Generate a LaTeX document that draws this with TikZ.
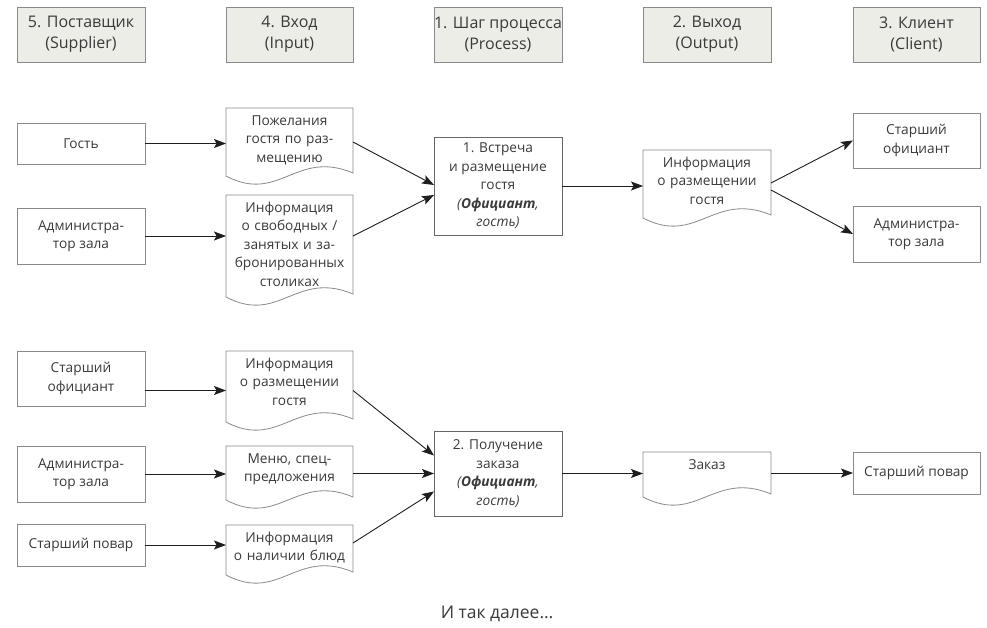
\documentclass[tikz,border=0pt]{standalone}
\usepackage{fontspec}
\setmainfont{Open Sans}
\usetikzlibrary{arrows.meta,calc}
\definecolor{txt}{HTML}{3A3A3A}
\definecolor{edgec}{HTML}{8A8A8A}
\definecolor{hdrfill}{HTML}{EDEDE8}
\definecolor{arrc}{HTML}{1E1E1E}
\tikzset{
  basefont/.style={font=\fontsize{13.7}{18.5}\selectfont, text=txt},
  plainbox/.style={basefont, draw=edgec, line width=0.8pt, rectangle, inner sep=0pt, outer sep=0pt, align=center},
  hdrbox/.style={plainbox, fill=hdrfill, font=\fontsize{16}{21}\selectfont},
  procbox/.style={plainbox, line width=0.9pt, draw=black!60},
  docarea/.style={rectangle, draw=none, inner sep=0pt, outer sep=0pt},
  doctext/.style={basefont, anchor=north, text width=126pt, align=center, inner sep=0pt, yshift=-4pt, execute at begin node={\strut}},
  docline/.style={draw=edgec, line width=0.8pt, line join=miter},
  arw/.style={draw=arrc, line width=0.9pt, -{Stealth[length=12pt,width=9pt,inset=2.5pt]}},
  foot/.style={font=\fontsize{17.5}{21}\selectfont, text=txt}
}
\newcommand\rectnode[7]{\node[#1, minimum width={#4-#3}, minimum height={#6-#5}] (#2) at ({(#3+#4)/2},{(#5+#6)/2}) {#7};}
\newcommand\docshape[6]{%
  \node[docarea, minimum width={#3-#2}, minimum height={#5-#4}] (#1) at ({(#2+#3)/2},{(#4+#5)/2}) {};
  \node[doctext] (#1-t) at ({(#2+#3)/2},#4) {#6};
  \draw[docline] (#2,#5) -- (#2,#4) -- (#3,#4) -- (#3,{#5-3})
    .. controls ({#2+0.55*(#3-#2)},{#5-27}) and ({#2+0.42*(#3-#2)},{#5+28}) .. (#2,#5) -- cycle;
}
\begin{document}
\begin{tikzpicture}[x=1pt,y=-1pt]
\useasboundingbox (0,0) rectangle (987,628);
\fill[white] (0,0) rectangle (987,628);

% headers
\rectnode{hdrbox}{h5}{17}{145}{7}{62}{5. Поставщик\\(Supplier)}
\rectnode{hdrbox}{h4}{226}{353}{7}{62}{4. Вход\\(Input)}
\rectnode{hdrbox}{h1}{434}{562}{7}{62}{1. Шаг процесса\\(Process)}
\rectnode{hdrbox}{h2}{643}{771}{7}{62}{2. Выход\\(Output)}
\rectnode{hdrbox}{h3}{853}{980}{7}{62}{3. Клиент\\(Client)}

% row 1
\rectnode{plainbox}{s1}{17}{145}{123}{164}{Гость}
\rectnode{plainbox}{s2}{17}{145}{208}{264}{Администра-\\тор зала}
\docshape{d1}{226}{353}{108}{176}{Пожелания\\гостя по раз-\\мещению}
\docshape{d2}{226}{353}{195}{297}{Информация\\о свободных /\\занятых и за-\\бронированных\\столиках}
\rectnode{procbox}{p1}{434}{562}{137}{235}{1. Встреча\\и размещение\\гостя\\\textit{(\textbf{Официант},}\\\textit{гость)}}
\docshape{o1}{643}{771}{150}{218}{Информация\\о размещении\\гостя}
\rectnode{plainbox}{c1}{853}{980}{113}{168}{Старший\\официант}
\rectnode{plainbox}{c2}{853}{980}{206}{262}{Администра-\\тор зала}

% row 2
\rectnode{plainbox}{t1}{17}{145}{351}{406}{Старший\\официант}
\rectnode{plainbox}{t2}{17}{145}{446}{502}{Администра-\\тор зала}
\rectnode{plainbox}{t3}{17}{145}{524}{566}{Старший повар}
\docshape{e1}{226}{353}{351}{422}{Информация\\о размещении\\гостя}
\docshape{e2}{226}{353}{446}{500}{Меню, спец-\\предложения}
\docshape{e3}{226}{353}{525}{575}{Информация\\о наличии блюд}
\rectnode{procbox}{p2}{434}{562}{431}{516}{2. Получение\\заказа\\\textit{(\textbf{Официант},}\\\textit{гость)}}
\docshape{o2}{643}{771}{452}{497}{Заказ}
\rectnode{plainbox}{c3}{853}{980}{452}{494}{Старший повар}

% connectors row 1
\draw[arw] (s1.east) -- (s1.east -| d1.west);
\draw[arw] (s2.east) -- (s2.east -| d2.west);
\draw[arw] (d1.east) -- ([yshift=1pt]p1.west);
\draw[arw] ([yshift=10pt]d2.east) -- ([yshift=-9pt]p1.west);
\draw[arw] (p1.east) -- (p1.east -| o1.west);
\draw[arw] ([yshift=1pt]o1.east) -- (c1.west);
\draw[arw] ([yshift=-6pt]o1.east) -- (c2.west);

% connectors row 2
\draw[arw] ([yshift=-12pt]t1.east) -- ([yshift=-12pt]t1.east -| e1.west);
\draw[arw] (t2.east) -- (t2.east -| e2.west);
\draw[arw] (t3.east) -- (t3.east -| e3.west);
\draw[arw] ([yshift=-4pt]e1.east) -- ([yshift=18pt]p2.west);
\draw[arw] (e2.east |- p2.west) -- (p2.west);
\draw[arw] ([yshift=7pt]e3.east) -- ([yshift=-18pt]p2.west);
\draw[arw] (p2.east) -- (p2.east -| o2.west);
\draw[arw] (o2.east |- c3.west) -- (c3.west);

\node[foot] (more) at (497,614) {И так далее…};
\end{tikzpicture}
\end{document}
